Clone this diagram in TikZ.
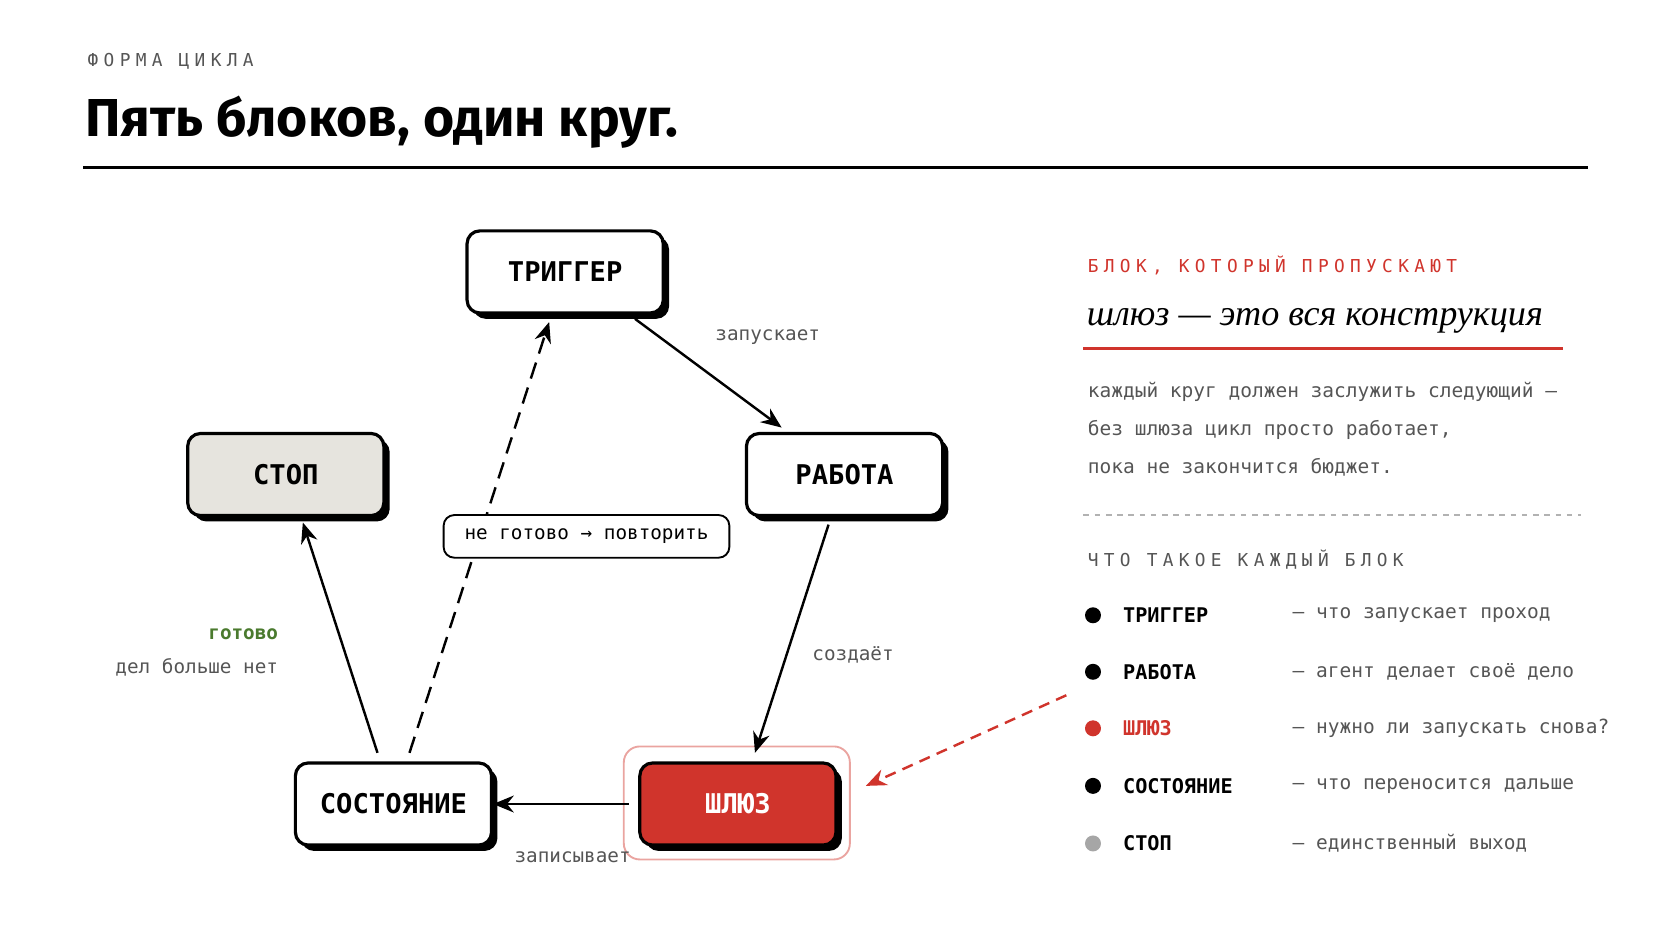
\documentclass[tikz,border=0pt]{standalone}
\usepackage{fontspec}
\setmainfont{Fira Sans}
\setmonofont{DejaVu Sans Mono}
\newfontfamily\serifit{Liberation Serif}
\usetikzlibrary{shadows,arrows.meta}
\definecolor{gatered}{HTML}{D0342C}
\definecolor{stopgray}{HTML}{E6E4DE}
\definecolor{txtgray}{HTML}{555555}
\definecolor{okgreen}{HTML}{4A7A2E}
\tikzset{
  blk/.style={draw=black, line width=1.7pt, rounded corners=0.24cm, fill=white,
    minimum width=3.68cm, minimum height=1.54cm,
    font=\ttfamily\bfseries\fontsize{14.5}{16}\selectfont,
    drop shadow={shadow xshift=0.11cm, shadow yshift=-0.11cm, fill=black, opacity=1}},
  lbl/.style={font=\ttfamily\fontsize{10.3}{12}\selectfont, text=txtgray},
  flow/.style={line width=1.3pt, -{Stealth[length=11pt,width=9pt]}},
  spaced/.style={font=\ttfamily\fontsize{9.5}{11}\selectfont\addfontfeatures{LetterSpace=30}},
  row/.style={font=\ttfamily\bfseries\fontsize{10.8}{12}\selectfont, anchor=west},
  desc/.style={font=\ttfamily\fontsize{10.4}{12}\selectfont, text=txtgray, anchor=west},
}
\begin{document}
\begin{tikzpicture}[x=0.02cm,y=-0.02cm]
  \useasboundingbox (0,0) rectangle (1568,882);
  % header
  \node[spaced, text=txtgray, anchor=base west] (kicker) at (76,62) {ФОРМА ЦИКЛА};
  \node[font=\bfseries\fontsize{28.5}{32}\selectfont, anchor=base west] (title) at (74,128) {Пять блоков, один круг.};
  \draw[line width=1.7pt] (78,157) -- (1489,157);

  % blocks
  \node[blk] (trig) at (530,255) {ТРИГГЕР};
  \node[blk] (work) at (792,445) {РАБОТА};
  \node[blk, fill=stopgray] (stop) at (268,445) {СТОП};
  \node[blk] (state) at (369,754) {СОСТОЯНИЕ};
  \draw[gatered!45, line width=1pt, rounded corners=0.3cm] (585,700) rectangle (797,806);
  \node[blk, fill=gatered, text=white] (gate) at (692,754) {ШЛЮЗ};

  % connectors
  \draw[flow] (trig.south east) ++(-28,4) coordinate (t1) -- (733,401) coordinate (w1);
  \node[lbl] (lstart) at (720,316) {запускает};
  \draw[flow] (777,492) coordinate (w2) -- (708,706) coordinate (g1);
  \node[lbl] (lcreate) at (800,614) {создаёт};
  \draw[flow] (gate.west) ++(-9,0) coordinate (g2) -- (state.east);
  \node[lbl] (lwrite) at (537,804) {записывает};
  \draw[flow] (354,706) coordinate (s1) -- (284,490) coordinate (p1);
  \node[font=\ttfamily\bfseries\fontsize{10.3}{12}\selectfont, text=okgreen, anchor=east] (ldone) at (267,595) {готово};
  \node[lbl, anchor=east] (lnone) at (267,626) {дел больше нет};
  \draw[flow, dashed, dash pattern=on 9pt off 5pt] (384,706) coordinate (s2) -- (515,302) coordinate (t2);
  \node[lbl, text=black, draw, line width=1pt, rounded corners=0.2cm, fill=white,
        minimum width=5.36cm, minimum height=0.8cm] (retry) at (550,503) {не готово → повторить};

  % side panel
  \node[spaced, text=gatered, anchor=base west] (kick2) at (1014,256) {БЛОК, КОТОРЫЙ ПРОПУСКАЮТ};
  \node[font=\serifit\itshape\fontsize{19.3}{21}\selectfont, anchor=base west] (sub) at (1013,305) {шлюз — это вся конструкция};
  \draw[gatered, line width=1.7pt] (1016,327) -- (1466,327);
  \node[desc, anchor=base west] (b1) at (1014,373) {каждый круг должен заслужить следующий –};
  \node[desc, anchor=base west] (b2) at (1014,408) {без шлюза цикл просто работает,};
  \node[desc, anchor=base west] (b3) at (1014,444) {пока не закончится бюджет.};
  \draw[gray!60, dashed, line width=0.6pt] (1016,483) -- (1483,483);
  \node[spaced, text=txtgray, anchor=base west] (kick3) at (1014,531) {ЧТО ТАКОЕ КАЖДЫЙ БЛОК};
  \foreach \y/\dot/\ink/\name/\txt [count=\i] in {577/black/black/ТРИГГЕР/что запускает проход,
      630/black/black/РАБОТА/агент делает своё дело,
      683/gatered/gatered/ШЛЮЗ/нужно ли запускать снова?,
      737/black/black/СОСТОЯНИЕ/что переносится дальше,
      791/gray!70/black/СТОП/единственный выход}{
    \fill[\dot] (1025,\y) circle (0.15cm);
    \node[row, text=\ink] (n\i) at (1047,\y) {\name};
    \node[desc] (d\i) at (1206,\y) {– \txt};
  }
  \draw[gatered, line width=1.3pt, dashed, dash pattern=on 6pt off 4pt,
        -{Stealth[length=11pt,width=9pt]}] (1000,652) coordinate (r1) -- (812,737) coordinate (r2);
\end{tikzpicture}
\end{document}
